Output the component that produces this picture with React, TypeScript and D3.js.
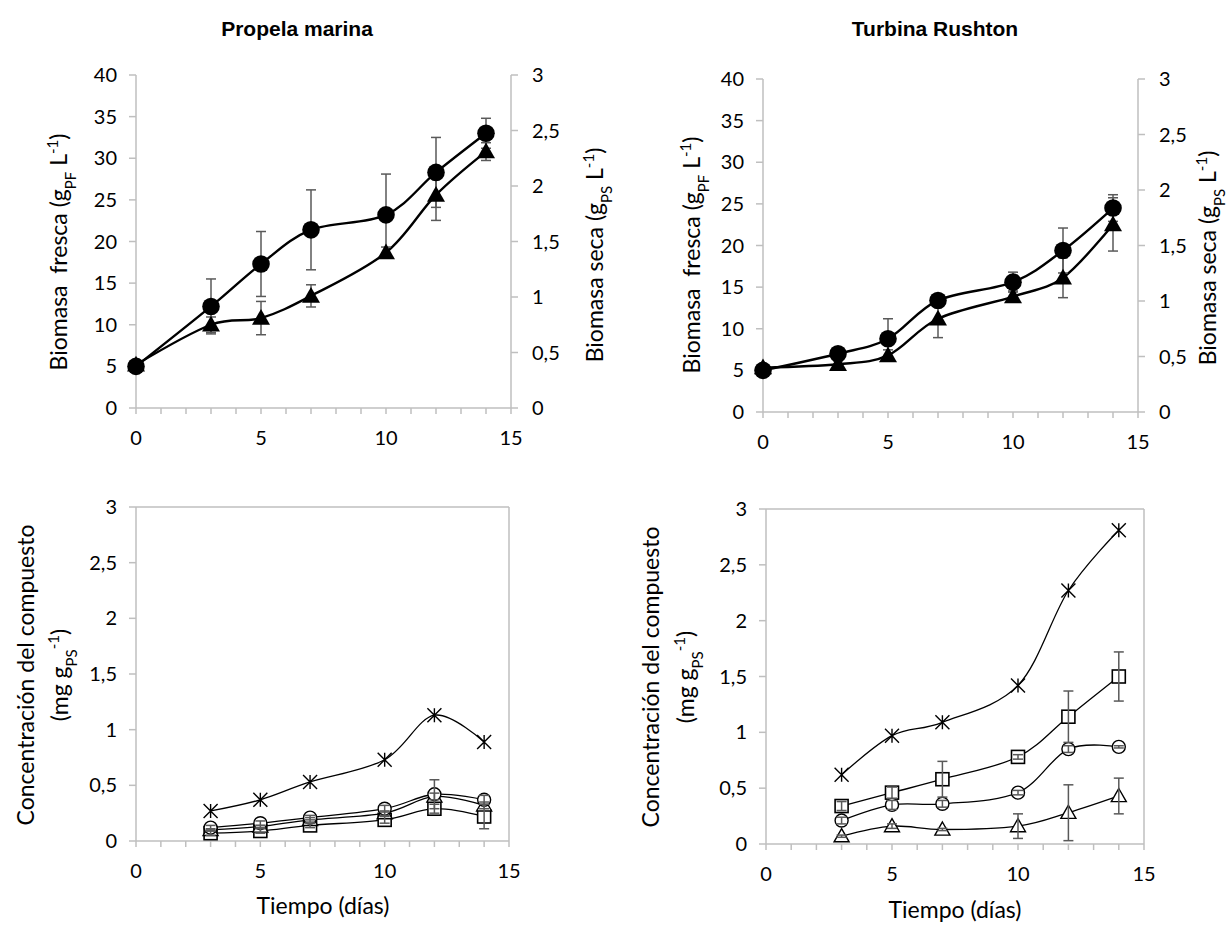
import * as d3 from "d3";
import React from "react";

// días de muestreo
const days = [0, 3, 5, 7, 10, 12, 14];
const daysComp = [3, 5, 7, 10, 12, 14];

// Propela marina - biomasa
const pmFresh = [5.0, 12.2, 17.3, 21.4, 23.2, 28.3, 33.0];
const pmFreshErr = [0.3, 3.3, 3.9, 4.8, 4.9, 4.2, 1.8];
const pmDry = [0.39, 0.75, 0.81, 1.01, 1.40, 1.92, 2.31];
const pmDryErr = [0.02, 0.07, 0.15, 0.1, 0.05, 0.23, 0.08];

// Turbina Rushton - biomasa
const trFresh = [5.0, 7.0, 8.8, 13.4, 15.6, 19.4, 24.5];
const trFreshErr = [0.2, 0.3, 2.4, 0.5, 1.2, 2.7, 1.6];
const trDry = [0.40, 0.43, 0.51, 0.84, 1.04, 1.21, 1.69];
const trDryErr = [0.02, 0.03, 0.05, 0.17, 0.05, 0.18, 0.24];

// Propela marina - compuestos
const pmStar = [0.27, 0.37, 0.53, 0.73, 1.13, 0.89];
const pmCircle = [0.12, 0.16, 0.21, 0.29, 0.42, 0.37];
const pmCircleErr = [0.02, 0.02, 0.02, 0.03, 0.13, 0.04];
const pmTriangle = [0.10, 0.13, 0.19, 0.25, 0.40, 0.32];
const pmTriangleErr = [0.01, 0.01, 0.02, 0.02, 0.03, 0.03];
const pmSquare = [0.07, 0.09, 0.14, 0.19, 0.29, 0.22];
const pmSquareErr = [0.02, 0.02, 0.02, 0.03, 0.04, 0.11];

// Turbina Rushton - compuestos
const trStar = [0.62, 0.97, 1.09, 1.42, 2.27, 2.81];
const trSquare = [0.34, 0.46, 0.58, 0.78, 1.14, 1.50];
const trSquareErr = [0.04, 0.05, 0.16, 0.02, 0.23, 0.22];
const trCircle = [0.21, 0.35, 0.36, 0.46, 0.85, 0.87];
const trCircleErr = [0.03, 0.04, 0.03, 0.02, 0.03, 0.01];
const trTriangle = [0.07, 0.16, 0.13, 0.16, 0.28, 0.43];
const trTriangleErr = [0.01, 0.02, 0.01, 0.11, 0.25, 0.16];

const xTicks = [0, 5, 10, 15];
const bioTicks = [0, 5, 10, 15, 20, 25, 30, 35, 40];
const dryTicks = [0, 0.5, 1, 1.5, 2, 2.5, 3];

const FONT = "Lato, 'Open Sans', sans-serif";
const AXIS = "#bfbfbf";
const ERR = "#595959";
const fmt = (v: number) => String(v).replace(".", ",");

function marker(kind: string, x: number, y: number, big: boolean, key: string) {
  if (kind === "circle") {
    return big
      ? <circle key={key} cx={x} cy={y} r={8.8} fill="#000" />
      : <circle key={key} cx={x} cy={y} r={6.5} fill="#fff" stroke="#000" strokeWidth={1.4} />;
  }
  if (kind === "triangle") {
    const s = big ? 9 : 7.5;
    const d = `M${x},${y - s}L${x + s},${y + s * 0.75}L${x - s},${y + s * 0.75}Z`;
    return big
      ? <path key={key} d={d} fill="#000" />
      : <path key={key} d={d} fill="#fff" stroke="#000" strokeWidth={1.4} />;
  }
  if (kind === "square") {
    return <rect key={key} x={x - 6.5} y={y - 6.5} width={13} height={13} fill="#fff" stroke="#000" strokeWidth={1.6} />;
  }
  // star: X with vertical bar
  const s = 7;
  return (
    <path key={key} d={`M${x - s},${y - s}L${x + s},${y + s}M${x - s},${y + s}L${x + s},${y - s}M${x},${y - s}L${x},${y + s}`}
      stroke="#000" strokeWidth={1.4} fill="none" />
  );
}

type Series = { xs: number[]; ys: number[]; err?: number[]; kind: string; axis: "left" | "right" };

function Panel({ x0, x1, yTop, yBot, leftMax, leftTicks, rightTicks, series, big, border, errOnTop }:
  { x0: number; x1: number; yTop: number; yBot: number; leftMax: number; leftTicks: number[]; rightTicks?: number[];
    series: Series[]; big: boolean; border: boolean; errOnTop: boolean }) {
  const x = d3.scaleLinear().domain([0, 15]).range([x0, x1]);
  const yL = d3.scaleLinear().domain([0, leftMax]).range([yBot, yTop]);
  const yR = d3.scaleLinear().domain([0, 3]).range([yBot, yTop]);
  const line = d3.line<[number, number]>().curve(d3.curveCardinal.tension(0));
  const minor = d3.range(0, 16);

  const lines = series.map((s, i) => {
    const y = s.axis === "left" ? yL : yR;
    const pts = s.xs.map((d, j) => [x(d), y(s.ys[j])] as [number, number]);
    return <path key={"l" + i} d={line(pts) || ""} fill="none" stroke="#000" strokeWidth={big ? 2.4 : 1.3} />;
  });
  const errs = series.map((s, i) => {
    if (!s.err) return null;
    const y = s.axis === "left" ? yL : yR;
    return (
      <g key={"e" + i} stroke={ERR} strokeWidth={1.5}>
        {s.xs.map((d, j) => {
          const cx = x(d), lo = y(s.ys[j] - s.err![j]), hi = y(s.ys[j] + s.err![j]);
          return (
            <g key={j}>
              <line x1={cx} x2={cx} y1={lo} y2={hi} />
              <line x1={cx - 5} x2={cx + 5} y1={lo} y2={lo} />
              <line x1={cx - 5} x2={cx + 5} y1={hi} y2={hi} />
            </g>
          );
        })}
      </g>
    );
  });
  const marks = series.map((s, i) => {
    const y = s.axis === "left" ? yL : yR;
    return <g key={"m" + i}>{s.xs.map((d, j) => marker(s.kind, x(d), y(s.ys[j]), big, `${i}-${j}`))}</g>;
  });

  return (
    <g>
      {/* ejes */}
      <g stroke={AXIS} strokeWidth={1.5}>
        <line x1={x0} x2={x0} y1={yTop} y2={yBot} />
        <line x1={x0} x2={x1} y1={yBot} y2={yBot} />
        {(border || rightTicks) && <line x1={x1} x2={x1} y1={yTop} y2={yBot} />}
        {border && <line x1={x0} x2={x1} y1={yTop} y2={yTop} />}
        {leftTicks.map(t => <line key={"lt" + t} x1={x0 - 7} x2={x0} y1={yL(t)} y2={yL(t)} />)}
        {rightTicks && rightTicks.map(t => <line key={"rt" + t} x1={x1} x2={x1 + 7} y1={yR(t)} y2={yR(t)} />)}
        {minor.map(t => <line key={"xt" + t} x1={x(t)} x2={x(t)} y1={yBot} y2={yBot + 6} />)}
      </g>
      <g fontFamily={FONT} fontSize={20} fill="#000">
        {leftTicks.map(t => (
          <text key={"ll" + t} x={x0 - 19} y={yL(t)} dy="0.35em" textAnchor="end">{fmt(t)}</text>
        ))}
        {rightTicks && rightTicks.map(t => (
          <text key={"rl" + t} x={x1 + 21} y={yR(t)} dy="0.35em" textAnchor="start">{fmt(t)}</text>
        ))}
        {xTicks.map(t => (
          <text key={"xl" + t} x={x(t)} y={yBot + 30} dy="0.35em" textAnchor="middle">{fmt(t)}</text>
        ))}
      </g>
      {lines}
      {!errOnTop && errs}
      {marks}
      {errOnTop && errs}
    </g>
  );
}

export default function App() {
  const sub = { baselineShift: "sub", fontSize: 15 } as React.CSSProperties;
  const sup = { baselineShift: "super", fontSize: 15 } as React.CSSProperties;
  const bioLeft = (cx: number, cy: number) => (
    <text transform={`translate(${cx},${cy}) rotate(-90)`} textAnchor="middle" style={{ whiteSpace: "pre" }}>
      Biomasa  fresca (g<tspan style={sub}>PF</tspan> L<tspan style={sup}>-1</tspan>)
    </text>
  );
  const bioRight = (cx: number, cy: number) => (
    <text transform={`translate(${cx},${cy}) rotate(-90)`} textAnchor="middle">
      Biomasa seca (g<tspan style={sub}>PS</tspan> L<tspan style={sup}>-1</tspan>)
    </text>
  );
  const conc = (cx1: number, cx2: number, cy: number) => (
    <g>
      <text transform={`translate(${cx1},${cy}) rotate(-90)`} textAnchor="middle">Concentración del compuesto</text>
      <text transform={`translate(${cx2},${cy}) rotate(-90)`} textAnchor="middle">
        (mg g<tspan style={sub}>PS</tspan><tspan style={sup}>-1</tspan>)
      </text>
    </g>
  );

  return (
    <div style={{ position: "absolute", left: 0, top: 0 }}>
      <svg width={1231} height={928} style={{ display: "block", background: "#fff" }}>
        <g fontFamily="'Liberation Sans', Arial, sans-serif" fontWeight="bold" fontSize={21} textAnchor="middle">
          <text x={297} y={36}>Propela marina</text>
          <text x={935} y={36}>Turbina Rushton</text>
        </g>

        <Panel x0={136} x1={511} yTop={75} yBot={408} leftMax={40} leftTicks={bioTicks} rightTicks={dryTicks}
          big border={false} errOnTop={false}
          series={[
            { xs: days, ys: pmDry, err: pmDryErr, kind: "triangle", axis: "right" },
            { xs: days, ys: pmFresh, err: pmFreshErr, kind: "circle", axis: "left" },
          ]} />
        <Panel x0={763} x1={1138} yTop={79} yBot={412} leftMax={40} leftTicks={bioTicks} rightTicks={dryTicks}
          big border={false} errOnTop={false}
          series={[
            { xs: days, ys: trDry, err: trDryErr, kind: "triangle", axis: "right" },
            { xs: days, ys: trFresh, err: trFreshErr, kind: "circle", axis: "left" },
          ]} />
        <Panel x0={136} x1={509} yTop={507} yBot={841} leftMax={3} leftTicks={dryTicks}
          big={false} border errOnTop
          series={[
            { xs: daysComp, ys: pmStar, kind: "star", axis: "left" },
            { xs: daysComp, ys: pmSquare, err: pmSquareErr, kind: "square", axis: "left" },
            { xs: daysComp, ys: pmTriangle, err: pmTriangleErr, kind: "triangle", axis: "left" },
            { xs: daysComp, ys: pmCircle, err: pmCircleErr, kind: "circle", axis: "left" },
          ]} />
        <Panel x0={766} x1={1144} yTop={509} yBot={844} leftMax={3} leftTicks={dryTicks}
          big={false} border errOnTop
          series={[
            { xs: daysComp, ys: trStar, kind: "star", axis: "left" },
            { xs: daysComp, ys: trSquare, err: trSquareErr, kind: "square", axis: "left" },
            { xs: daysComp, ys: trCircle, err: trCircleErr, kind: "circle", axis: "left" },
            { xs: daysComp, ys: trTriangle, err: trTriangleErr, kind: "triangle", axis: "left" },
          ]} />

        <g fontFamily={FONT} fontSize={23} fill="#000">
          {bioLeft(67, 252)}
          {bioRight(603, 255)}
          {bioLeft(700, 255)}
          {bioRight(1216, 258)}
          {conc(34, 68, 675)}
          {conc(659, 694, 677)}
          <text x={323} y={906} dy="0.35em" textAnchor="middle">Tiempo (días)</text>
          <text x={955} y={910} dy="0.35em" textAnchor="middle">Tiempo (días)</text>
        </g>
      </svg>
    </div>
  );
}
